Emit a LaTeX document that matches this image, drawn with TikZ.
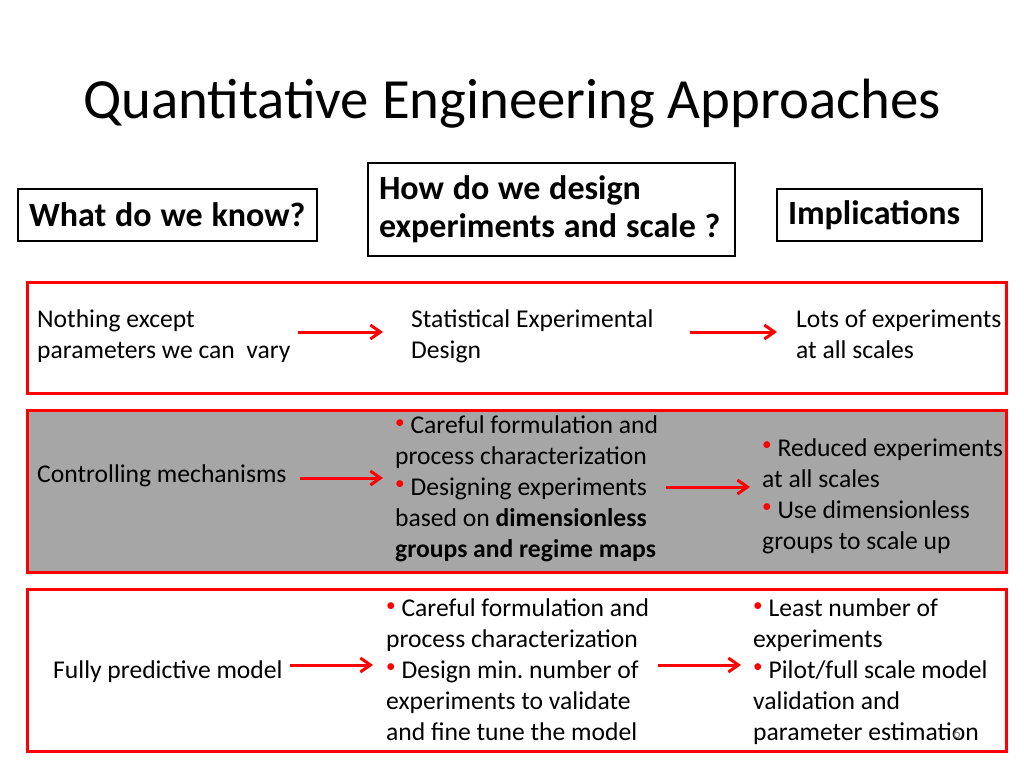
\documentclass[tikz,border=0pt]{standalone}
\usepackage{fontspec}
\setmainfont{Carlito}
\usepackage{xcolor}
\usepackage{graphicx}
\usetikzlibrary{arrows.meta, positioning}
\frenchspacing

\definecolor{bandgray}{RGB}{166,166,166}
\newcommand{\bul}{\textcolor{red}{\raisebox{0.22em}{\scalebox{0.75}{\textbullet}}}\ }
\newcommand{\headline}[1]{\mbox{\spaceskip=0.26em\relax #1}}

\begin{document}
\begin{tikzpicture}[x=1pt, y=-1pt, >={Straight Barb[length=10pt,width=14pt]}, font=\fontsize{25.6}{30.8}\selectfont]
\tikzstyle{head} = [draw=black, line width=2pt, anchor=north west, inner xsep=11pt, inner ysep=0pt, align=left, font=\fontsize{34}{38}\selectfont\bfseries]
\tikzstyle{band} = [draw=red, line width=3pt, anchor=north west, minimum width=979pt, inner sep=0pt]
\tikzstyle{txt} = [anchor=base west, inner sep=0pt, align=left]
\tikzstyle{flow} = [->, red, line width=3pt]

\useasboundingbox (0,0) rectangle (1024,768);

\node[anchor=base, font=\fontsize{56.8}{60}\selectfont] at (512, 118) (title) {Quantitative Engineering Approaches};

\node[head, minimum width=299pt, minimum height=52pt, text width=277pt] at (17, 188) (know) {\headline{What do we know?}};
\node[head, minimum width=367pt, minimum height=93pt, text width=345pt] at (367, 162) (design) {\headline{How do we design}\\\headline{experiments and scale ?}};
\node[head, minimum width=205pt, minimum height=52pt, text width=183pt] at (776, 188) (impl) {Implications};

\node[band, minimum height=111pt, fill=white] at (26, 281) (band1) {};
\node[band, minimum height=162pt, fill=bandgray] at (26, 409) (band2) {};
\node[band, minimum height=162pt, fill=white] at (26, 588) (band3) {};

% row 1 (base = last line)
\node[txt] at (37, 358) (know1) {Nothing except\\parameters we can\ \ vary};
\node[txt] at (411, 358) (design1) {Statistical Experimental\\Design};
\node[txt] at (796, 358) (impl1) {Lots of experiments\\at all scales};

% row 2
\node[txt] at (37, 482) (know2) {Controlling mechanisms};
\node[txt] at (395, 557) (design2) {\bul Careful formulation and\\process characterization\\\bul Designing experiments\\based on \textbf{dimensionless}\\\textbf{groups and regime maps}};
\node[txt] at (762, 549) (impl2) {\bul Reduced experiments\\at all scales\\\bul Use dimensionless\\groups to scale up};

% row 3
\node[txt] at (53, 678) (know3) {Fully predictive model};
\node[txt] at (386, 740) (design3) {\bul Careful formulation and\\process characterization\\\bul Design min. number of\\experiments to validate\\and fine tune the model};
\node[txt] at (753, 740) (impl3) {\bul Least number of\\experiments\\\bul Pilot/full scale model\\validation and\\parameter estimation};

\node[anchor=base, text=gray, font=\fontsize{15}{15}\selectfont] at (957, 738) (page) {6};

\coordinate (a1) at (298, 332);  \coordinate (b1) at (383, 332);
\coordinate (c1) at (690, 332);  \coordinate (d1) at (777, 332);
\coordinate (a2) at (300, 478);  \coordinate (b2) at (383, 478);
\coordinate (c2) at (666, 487);  \coordinate (d2) at (750, 487);
\coordinate (a3) at (290, 665);  \coordinate (b3) at (373, 665);
\coordinate (c3) at (658, 665);  \coordinate (d3) at (741, 665);

\path[flow]
(a1)	edge	(b1)
(c1)	edge	(d1)
(a2)	edge	(b2)
(c2)	edge	(d2)
(a3)	edge	(b3)
(c3)	edge	(d3);
\end{tikzpicture}
\end{document}
